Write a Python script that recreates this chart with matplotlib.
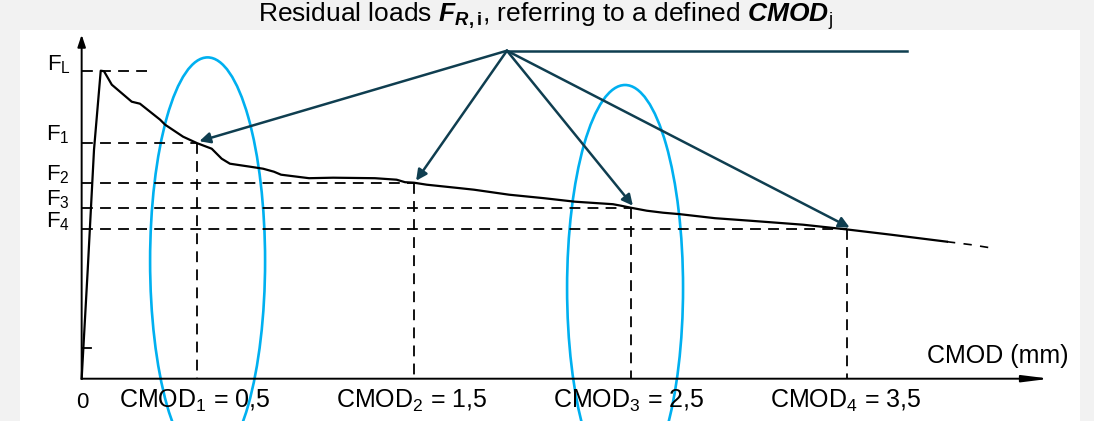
import numpy as np
import matplotlib.pyplot as plt
from matplotlib.patches import Ellipse, Rectangle

plt.rcParams['font.family'] = ['Liberation Sans', 'DejaVu Sans']
plt.rcParams['mathtext.fontset'] = 'custom'
plt.rcParams['mathtext.rm'] = 'Liberation Sans'
plt.rcParams['mathtext.it'] = 'Liberation Sans:italic'
plt.rcParams['mathtext.bf'] = 'Liberation Sans:bold'
plt.rcParams['mathtext.bfit'] = 'Liberation Sans:bold:italic'

# load - CMOD curve (CMOD in mm, load in arbitrary units)
cmod_curve = [-0.033, -0.005, 0.024, 0.055, 0.070, 0.106, 0.198, 0.236, 0.329, 0.352,
              0.435, 0.500, 0.567, 0.613, 0.651, 0.744, 0.804, 0.854, 0.887, 1.016,
              1.127, 1.320, 1.420, 1.459, 1.500, 1.559, 1.713, 1.777, 1.939, 2.100,
              2.243, 2.418, 2.455, 2.500, 2.574, 2.649, 2.728, 2.889, 3.050, 3.295,
              3.500, 3.701, 3.959]
load_curve = [0.0, 10.9, 22.9, 30.8, 30.75, 29.4, 27.7, 27.5, 25.9, 25.4,
              24.2, 23.55, 23.0, 22.0, 21.5, 21.2, 21.0, 20.7, 20.4, 20.05,
              20.1, 20.05, 19.9, 19.65, 19.6, 19.4, 19.05, 18.9, 18.4, 18.05,
              17.7, 17.45, 17.3, 17.1, 16.8, 16.6, 16.45, 16.05, 15.8, 15.4,
              14.92, 14.4, 13.7]
# extrapolated part (dashed)
cmod_tail = [3.959, 4.07, 4.185]
load_tail = [13.7, 13.4, 13.0]

cmod_peak = 0.055
load_peak = 30.8
cmod_j = [0.5, 1.5, 2.5, 3.5]
load_j = [23.55, 19.6, 17.1, 14.92]
f_labels = ['F$_1$', 'F$_2$', 'F$_3$', 'F$_4$']
cmod_labels = ['CMOD$_1$ = 0,5', 'CMOD$_2$ = 1,5', 'CMOD$_3$ = 2,5', 'CMOD$_4$ = 3,5']

x0 = -0.033         # where the load axis sits
teal = '#0f3e50'
blue = '#00b0f0'
dash = (0, (6, 4))

fig = plt.figure(figsize=(10.94, 4.21), dpi=100, facecolor='#f2f2f2')
fig.patches.append(Rectangle((0.0183, 0), 0.969, 0.9287, transform=fig.transFigure,
                             facecolor='white', edgecolor='none', zorder=-5))
ax = fig.add_axes([0, 0, 1, 1])
ax.set_xlim(-0.4097, 4.6374)
ax.set_ylim(-4.23, 37.87)
ax.axis('off')

# axes with arrows
ax.annotate('', xy=(x0, 34.4), xytext=(x0, 0), arrowprops=dict(arrowstyle='-|>,head_length=0.6,head_width=0.2',
            color='black', lw=1.4, mutation_scale=12, shrinkA=0, shrinkB=0))
ax.annotate('', xy=(4.434, 0), xytext=(x0, 0), arrowprops=dict(arrowstyle='-|>,head_length=1.6,head_width=0.2',
            color='black', lw=1.4, mutation_scale=10, shrinkA=0, shrinkB=0))
ax.plot([x0, x0 + 0.045], [3.1, 3.1], color='black', lw=1.3)

# curve
ax.plot(cmod_curve, load_curve, color='black', lw=1.6, solid_joinstyle='round')
ax.plot(cmod_tail, load_tail, color='black', lw=1.2, ls=(0, (5, 5)))

# dashed references
ax.plot([x0, 0.283], [load_peak, load_peak], color='black', lw=1.3, ls=dash)
for c, f in zip(cmod_j, load_j):
    ax.plot([x0, c], [f, f], color='black', lw=1.3, ls=dash)
    ax.plot([c, c], [f, 0], color='black', lw=1.3, ls=dash)

# labels
ax.text(-0.085, load_peak, 'F$_\\mathregular{L}$', ha='right', va='baseline', fontsize=16)
for lab, f in zip(f_labels, load_j):
    ax.text(-0.088, f + 0.25, lab, ha='right', va='baseline', fontsize=16)
ax.text(-0.03, -2.9, '0', ha='center', va='baseline', fontsize=16)
for lab, c in zip(cmod_labels, cmod_j):
    ax.text(c - 0.01, -2.9, lab, ha='center', va='baseline', fontsize=18)
ax.text(4.52, 1.54, 'CMOD (mm)', ha='right', va='baseline', fontsize=18)

# pointer lines
src = (1.929, 32.8)
ax.plot([src[0], 3.773], [src[1], src[1]], color=teal, lw=1.8)
for c, f in zip(cmod_j, load_j):
    ax.annotate('', xy=(c + 0.01, f + 0.2), xytext=src,
                arrowprops=dict(arrowstyle='-|>', color=teal, lw=1.8, mutation_scale=16,
                                shrinkA=0, shrinkB=0))

# highlight ellipses
ax.add_patch(Ellipse((0.548, 11.76), 0.5305, 40.74, fill=False, edgecolor=blue, lw=1.9))
ax.add_patch(Ellipse((2.474, 9.07), 0.535, 40.6, fill=False, edgecolor=blue, lw=1.9))

fig.text(0.499, 0.962, r'Residual loads $\mathbfit{F}_{\mathbfit{R}\mathbf{,i}}$, referring to a defined $\mathbfit{CMOD}_\mathregular{j}$',
         ha='center', va='center', fontsize=19)

fig.savefig('out.png', dpi=100, facecolor=fig.get_facecolor())
